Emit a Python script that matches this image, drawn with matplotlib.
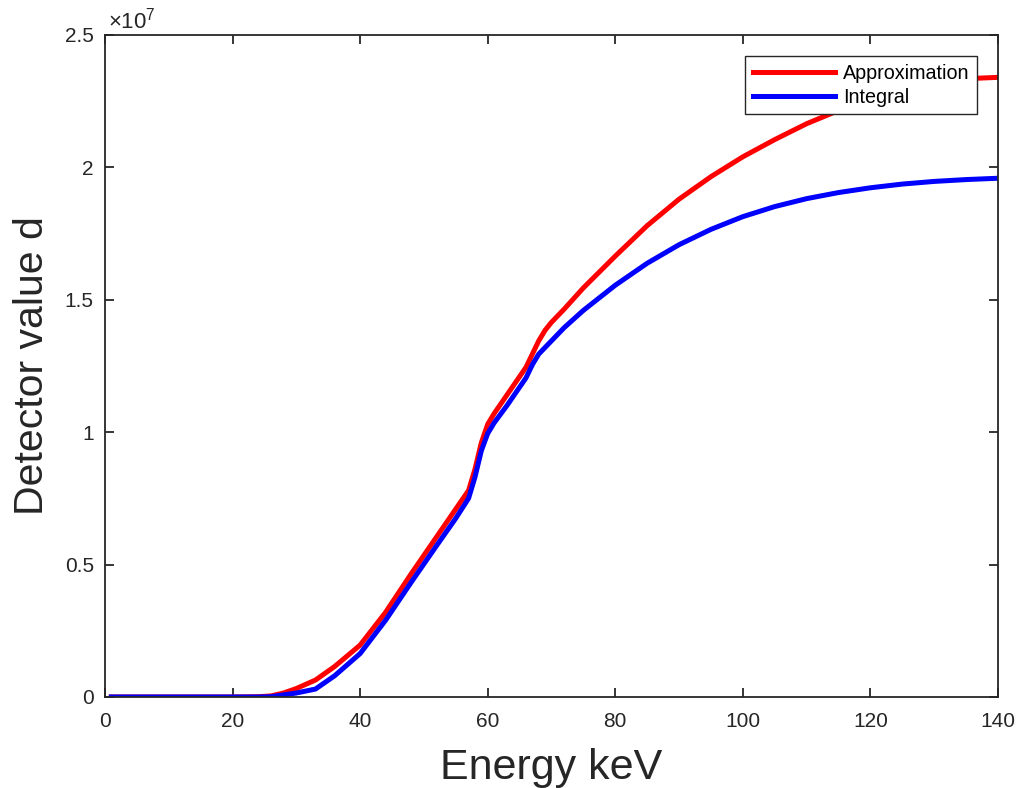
import matplotlib
matplotlib.use("Agg")
import matplotlib.pyplot as plt
from matplotlib.ticker import FuncFormatter

plt.rcParams['font.family'] = ['Liberation Sans', 'DejaVu Sans']
plt.rcParams['mathtext.fontset'] = 'custom'
plt.rcParams['mathtext.rm'] = 'Liberation Sans'
plt.rcParams['mathtext.it'] = 'Liberation Sans:italic'
plt.rcParams['mathtext.bf'] = 'Liberation Sans:bold'

# Energy (keV)
energy = [1, 5, 10, 15, 20, 24, 26, 28, 30, 33, 36, 40, 44, 48, 52, 55, 57, 58, 59,
          60, 61, 63, 66, 67, 68, 69, 70, 72, 75, 80, 85, 90, 95, 100, 105, 110,
          115, 120, 125, 130, 135, 140]
# Detector values in units of 1e6
approx_m = [0, 0, 0, 0, 0, 0.01, 0.04, 0.15, 0.32, 0.64, 1.15, 1.96, 3.2, 4.65, 6.05,
            7.1, 7.8, 8.6, 9.6, 10.3, 10.7, 11.4, 12.45, 12.95, 13.45, 13.85,
            14.15, 14.65, 15.45, 16.65, 17.8, 18.8, 19.65, 20.4, 21.05, 21.65, 22.15,
            22.6, 22.95, 23.2, 23.35, 23.4]
integral_m = [0, 0, 0, 0, 0, 0, 0.01, 0.08, 0.15, 0.3, 0.8, 1.64, 2.9, 4.33, 5.72,
              6.75, 7.5, 8.3, 9.3, 9.95, 10.35, 11.0, 12.05, 12.55, 12.95, 13.2,
              13.45, 13.95, 14.6, 15.55, 16.38, 17.08, 17.66, 18.14, 18.52, 18.82,
              19.05, 19.23, 19.37, 19.47, 19.54, 19.59]

x_ticks = [0, 20, 40, 60, 80, 100, 120, 140]
y_ticks = [0, 0.5e7, 1e7, 1.5e7, 2e7, 2.5e7]

approx = [v * 1e6 for v in approx_m]
integral = [v * 1e6 for v in integral_m]

fig = plt.figure(figsize=(10.21, 7.88), dpi=100)
ax = fig.add_axes([0.1028, 0.1155, 0.9775 - 0.1028, 0.9556 - 0.1155])

ax.plot(energy, approx, color='#ff0000', lw=3.6, label='Approximation',
        solid_joinstyle='round')
ax.plot(energy, integral, color='#0000ff', lw=3.6, label='Integral',
        solid_joinstyle='round')

ax.set_xlim(0, 140)
ax.set_ylim(0, 2.5e7)
ax.set_xticks(x_ticks)
ax.set_yticks(y_ticks)
ax.yaxis.set_major_formatter(FuncFormatter(lambda v, p: '%g' % (v / 1e7)))

axc = '#262626'
for s in ax.spines.values():
    s.set_color(axc)
    s.set_linewidth(1.3)
ax.tick_params(direction='in', length=6.5, width=1.3, color=axc, labelcolor=axc,
               labelsize=15, top=True, right=True)
ax.tick_params(axis='x', pad=11)
ax.tick_params(axis='y', pad=8)

ax.text(0.003, 1.002, r'$\times10^{7}$', transform=ax.transAxes, ha='left', va='bottom',
        fontsize=16, color=axc)

ax.set_xlabel('Energy keV', fontsize=31, color=axc, labelpad=12)
ax.set_ylabel('Detector value d', fontsize=29.5, color=axc, labelpad=10)

leg = ax.legend(loc='upper right', fontsize=14.2, frameon=True, fancybox=False,
                edgecolor=axc, framealpha=1, handlelength=4.15, borderaxespad=1.05,
                borderpad=0.4, labelspacing=0.25, handletextpad=0.4)
leg.get_frame().set_linewidth(1.0)
for t in leg.get_texts():
    t.set_color('#000000')

fig.savefig('out.png', dpi=100)
